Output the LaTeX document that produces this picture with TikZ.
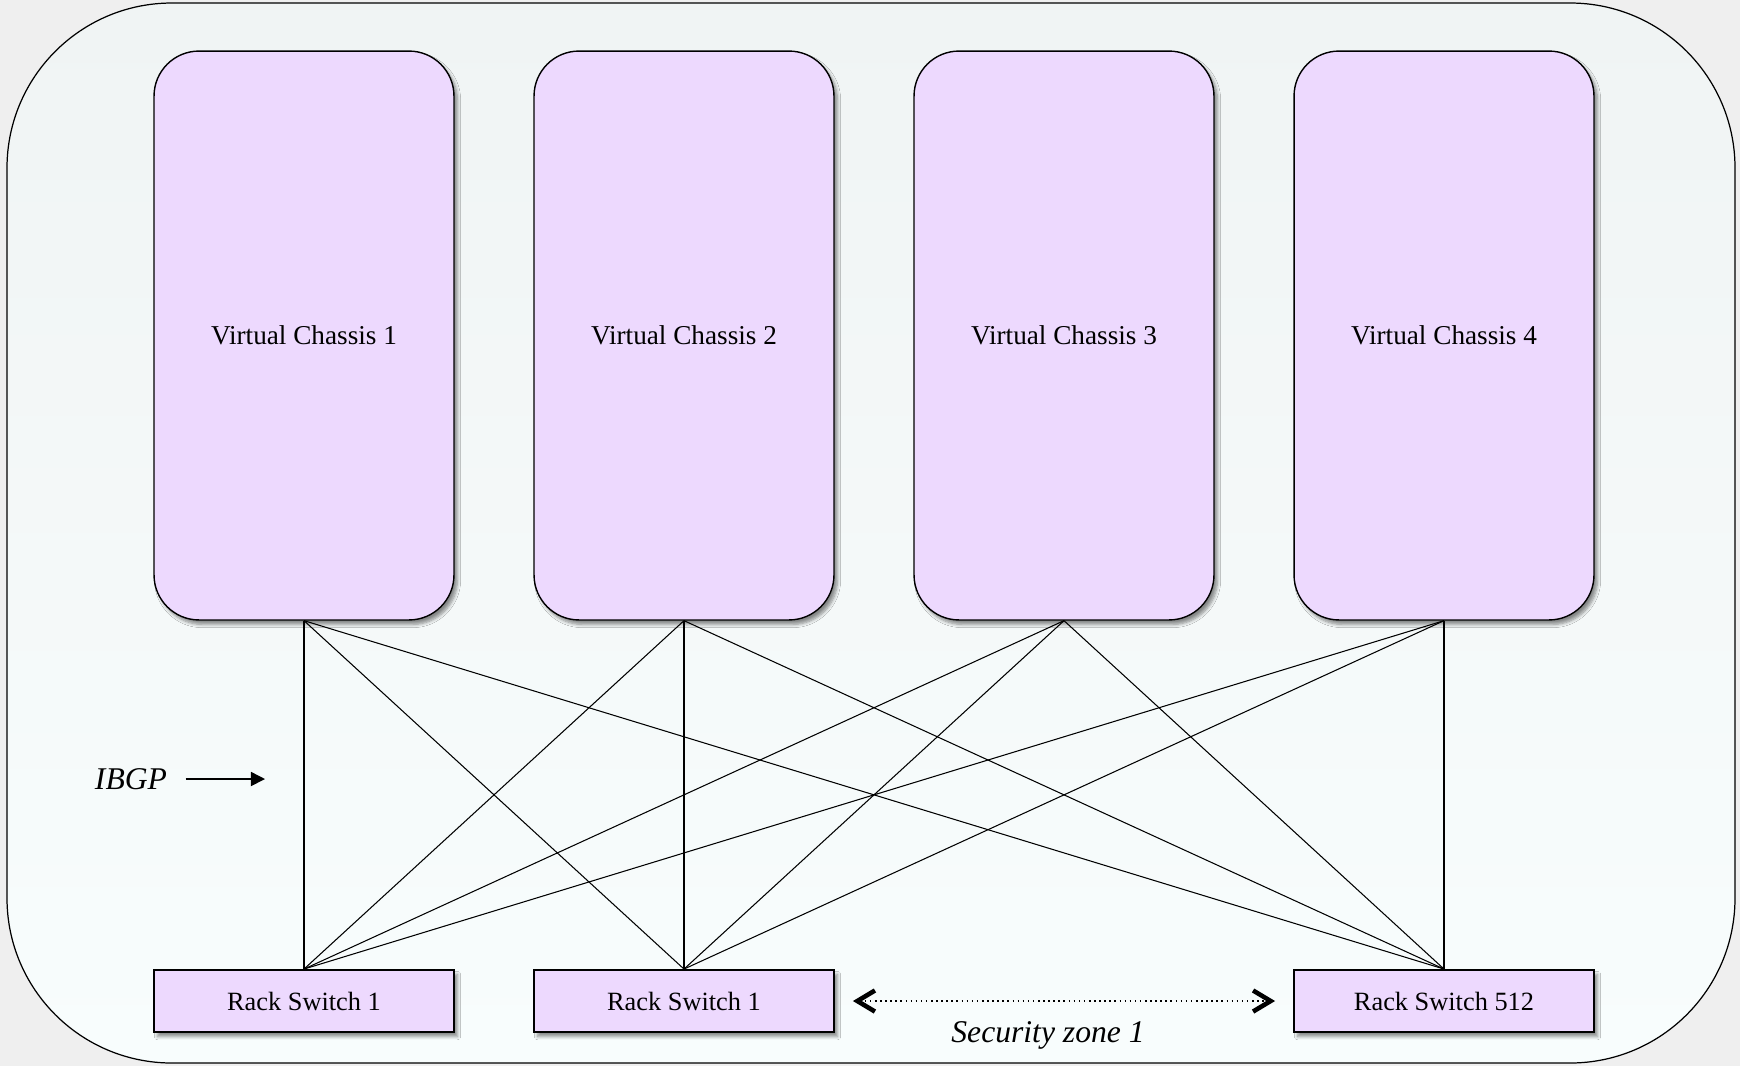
\documentclass[tikz,border=0pt]{standalone}
\usepackage{fontspec}
\setmainfont{Liberation Serif}
\usetikzlibrary{arrows.meta,shadows.blur}

\definecolor{chassisfill}{HTML}{EDD9FE}
\definecolor{panelfill}{HTML}{F8FDFD}
\definecolor{paneltop}{HTML}{F0F4F4}
\definecolor{pagegray}{HTML}{EFEFEF}

\tikzset{
  boxshadow/.style={blur shadow={shadow xshift=0.7mm, shadow yshift=-0.9mm,
      shadow blur steps=6, shadow opacity=45}},
  chassis/.style={draw, line width=0.8pt, fill=chassisfill, rounded corners=0.9cm,
      minimum width=6cm, minimum height=11.38cm,
      font=\fontsize{15.5}{18}\selectfont, boxshadow},
  rack/.style={draw, line width=1.1pt, fill=chassisfill,
      minimum width=6cm, minimum height=1.24cm,
      font=\fontsize{15}{18}\selectfont, boxshadow},
  lbl/.style={font=\fontsize{18}{21}\selectfont\itshape},
  link/.style={line width=0.6pt},
  barb/.style={Straight Barb[length=10pt,width=12pt,line width=2.6pt]}
}

\begin{document}
\begin{tikzpicture}[x=0.02cm, y=-0.02cm]
% Page and panel
\useasboundingbox (0,0) rectangle (1740,1066);
\fill[pagegray] (0,0) rectangle (1740,1066);
\draw[line width=0.7pt, top color=paneltop, middle color=panelfill, bottom color=panelfill,
      rounded corners=3.3cm] (7,3) rectangle (1735,1063);

% Virtual chassis
\foreach \i/\x in {1/304, 2/684, 3/1064, 4/1444}
    \node[chassis] (vc\i) at (\x,335.5) {Virtual Chassis \i};

% Rack switches
\node[rack] (rs1) at (304,1001) {Rack Switch 1};
\node[rack] (rs2) at (684,1001) {Rack Switch 1};
\node[rack] (rs512) at (1444,1001) {Rack Switch 512};

% Links
\foreach \i in {1,...,4}
    \foreach \r in {rs1, rs2, rs512}
        \draw[link] (vc\i.south) -- (\r.north);

% IBGP
\node[lbl] (ibgp) at (131,779) {IBGP};
\coordinate (ibgptip) at (265,779);
\draw[-{Triangle[length=8pt,width=8pt]}, line width=0.9pt, shorten <=0.25cm]
    (ibgp.east) -- (ibgptip);

% Security zone
\draw[dotted, line width=0.9pt, {Straight Barb[length=10pt,width=12pt,line width=2.6pt]}-{Straight Barb[length=10pt,width=12pt,line width=2.6pt]},
      shorten <=0.36cm, shorten >=0.36cm] (rs2.east) -- (rs512.west);
\node[lbl] (zone) at (1048,1035) {Security zone 1};
\end{tikzpicture}
\end{document}
